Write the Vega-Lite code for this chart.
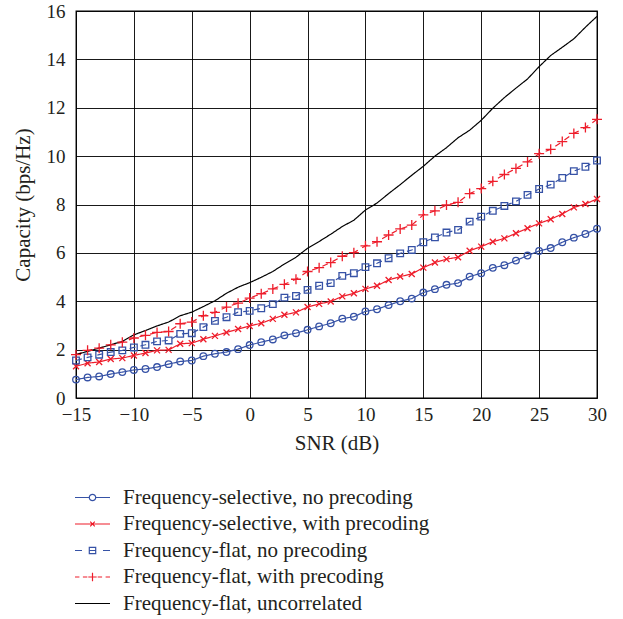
{
  "$schema": "https://vega.github.io/schema/vega-lite/v6.json",
  "width": 521,
  "height": 387,
  "autosize": "none",
  "padding": {"left": 76, "top": 11, "right": 26, "bottom": 221},
  "background": "white",
  "config": {
    "font": "Liberation Serif, Times New Roman, serif",
    "view": {"stroke": "black", "strokeWidth": 1.3},
    "axis": {
      "grid": true, "gridColor": "black", "gridWidth": 1, "gridOpacity": 0.9,
      "domain": false, "ticks": false, "labelFlush": false,
      "labelFont": "Liberation Serif, Times New Roman, serif", "labelFontSize": 19, "labelColor": "#231f20",
      "titleFont": "Liberation Serif, Times New Roman, serif", "titleFontSize": 21, "titleFontWeight": "normal", "titleColor": "#231f20"
    }
  },
  "data": {"values": [
    {"snr":-15,"series":"Frequency-selective, no precoding","cap":0.76},
    {"snr":-14,"series":"Frequency-selective, no precoding","cap":0.85},
    {"snr":-13,"series":"Frequency-selective, no precoding","cap":0.89},
    {"snr":-12,"series":"Frequency-selective, no precoding","cap":0.99},
    {"snr":-11,"series":"Frequency-selective, no precoding","cap":1.07},
    {"snr":-10,"series":"Frequency-selective, no precoding","cap":1.16},
    {"snr":-9,"series":"Frequency-selective, no precoding","cap":1.20},
    {"snr":-8,"series":"Frequency-selective, no precoding","cap":1.28},
    {"snr":-7,"series":"Frequency-selective, no precoding","cap":1.40},
    {"snr":-6,"series":"Frequency-selective, no precoding","cap":1.51},
    {"snr":-5,"series":"Frequency-selective, no precoding","cap":1.55},
    {"snr":-4,"series":"Frequency-selective, no precoding","cap":1.73},
    {"snr":-3,"series":"Frequency-selective, no precoding","cap":1.83},
    {"snr":-2,"series":"Frequency-selective, no precoding","cap":1.90},
    {"snr":-1,"series":"Frequency-selective, no precoding","cap":2.02},
    {"snr":0,"series":"Frequency-selective, no precoding","cap":2.19},
    {"snr":1,"series":"Frequency-selective, no precoding","cap":2.31},
    {"snr":2,"series":"Frequency-selective, no precoding","cap":2.42},
    {"snr":3,"series":"Frequency-selective, no precoding","cap":2.59},
    {"snr":4,"series":"Frequency-selective, no precoding","cap":2.68},
    {"snr":5,"series":"Frequency-selective, no precoding","cap":2.82},
    {"snr":6,"series":"Frequency-selective, no precoding","cap":2.96},
    {"snr":7,"series":"Frequency-selective, no precoding","cap":3.09},
    {"snr":8,"series":"Frequency-selective, no precoding","cap":3.28},
    {"snr":9,"series":"Frequency-selective, no precoding","cap":3.36},
    {"snr":10,"series":"Frequency-selective, no precoding","cap":3.58},
    {"snr":11,"series":"Frequency-selective, no precoding","cap":3.67},
    {"snr":12,"series":"Frequency-selective, no precoding","cap":3.84},
    {"snr":13,"series":"Frequency-selective, no precoding","cap":4.00},
    {"snr":14,"series":"Frequency-selective, no precoding","cap":4.11},
    {"snr":15,"series":"Frequency-selective, no precoding","cap":4.36},
    {"snr":16,"series":"Frequency-selective, no precoding","cap":4.50},
    {"snr":17,"series":"Frequency-selective, no precoding","cap":4.68},
    {"snr":18,"series":"Frequency-selective, no precoding","cap":4.75},
    {"snr":19,"series":"Frequency-selective, no precoding","cap":5.02},
    {"snr":20,"series":"Frequency-selective, no precoding","cap":5.16},
    {"snr":21,"series":"Frequency-selective, no precoding","cap":5.38},
    {"snr":22,"series":"Frequency-selective, no precoding","cap":5.49},
    {"snr":23,"series":"Frequency-selective, no precoding","cap":5.68},
    {"snr":24,"series":"Frequency-selective, no precoding","cap":5.89},
    {"snr":25,"series":"Frequency-selective, no precoding","cap":6.08},
    {"snr":26,"series":"Frequency-selective, no precoding","cap":6.20},
    {"snr":27,"series":"Frequency-selective, no precoding","cap":6.44},
    {"snr":28,"series":"Frequency-selective, no precoding","cap":6.63},
    {"snr":29,"series":"Frequency-selective, no precoding","cap":6.78},
    {"snr":30,"series":"Frequency-selective, no precoding","cap":7.00},
    {"snr":-15,"series":"Frequency-selective, with precoding","cap":1.31},
    {"snr":-14,"series":"Frequency-selective, with precoding","cap":1.44},
    {"snr":-13,"series":"Frequency-selective, with precoding","cap":1.49},
    {"snr":-12,"series":"Frequency-selective, with precoding","cap":1.61},
    {"snr":-11,"series":"Frequency-selective, with precoding","cap":1.65},
    {"snr":-10,"series":"Frequency-selective, with precoding","cap":1.76},
    {"snr":-9,"series":"Frequency-selective, with precoding","cap":1.86},
    {"snr":-8,"series":"Frequency-selective, with precoding","cap":1.97},
    {"snr":-7,"series":"Frequency-selective, with precoding","cap":1.99},
    {"snr":-6,"series":"Frequency-selective, with precoding","cap":2.24},
    {"snr":-5,"series":"Frequency-selective, with precoding","cap":2.27},
    {"snr":-4,"series":"Frequency-selective, with precoding","cap":2.43},
    {"snr":-3,"series":"Frequency-selective, with precoding","cap":2.57},
    {"snr":-2,"series":"Frequency-selective, with precoding","cap":2.71},
    {"snr":-1,"series":"Frequency-selective, with precoding","cap":2.85},
    {"snr":0,"series":"Frequency-selective, with precoding","cap":2.98},
    {"snr":1,"series":"Frequency-selective, with precoding","cap":3.09},
    {"snr":2,"series":"Frequency-selective, with precoding","cap":3.27},
    {"snr":3,"series":"Frequency-selective, with precoding","cap":3.44},
    {"snr":4,"series":"Frequency-selective, with precoding","cap":3.54},
    {"snr":5,"series":"Frequency-selective, with precoding","cap":3.76},
    {"snr":6,"series":"Frequency-selective, with precoding","cap":3.89},
    {"snr":7,"series":"Frequency-selective, with precoding","cap":3.99},
    {"snr":8,"series":"Frequency-selective, with precoding","cap":4.20},
    {"snr":9,"series":"Frequency-selective, with precoding","cap":4.33},
    {"snr":10,"series":"Frequency-selective, with precoding","cap":4.51},
    {"snr":11,"series":"Frequency-selective, with precoding","cap":4.64},
    {"snr":12,"series":"Frequency-selective, with precoding","cap":4.88},
    {"snr":13,"series":"Frequency-selective, with precoding","cap":5.02},
    {"snr":14,"series":"Frequency-selective, with precoding","cap":5.13},
    {"snr":15,"series":"Frequency-selective, with precoding","cap":5.39},
    {"snr":16,"series":"Frequency-selective, with precoding","cap":5.60},
    {"snr":17,"series":"Frequency-selective, with precoding","cap":5.74},
    {"snr":18,"series":"Frequency-selective, with precoding","cap":5.82},
    {"snr":19,"series":"Frequency-selective, with precoding","cap":6.09},
    {"snr":20,"series":"Frequency-selective, with precoding","cap":6.26},
    {"snr":21,"series":"Frequency-selective, with precoding","cap":6.46},
    {"snr":22,"series":"Frequency-selective, with precoding","cap":6.60},
    {"snr":23,"series":"Frequency-selective, with precoding","cap":6.81},
    {"snr":24,"series":"Frequency-selective, with precoding","cap":7.02},
    {"snr":25,"series":"Frequency-selective, with precoding","cap":7.22},
    {"snr":26,"series":"Frequency-selective, with precoding","cap":7.39},
    {"snr":27,"series":"Frequency-selective, with precoding","cap":7.61},
    {"snr":28,"series":"Frequency-selective, with precoding","cap":7.88},
    {"snr":29,"series":"Frequency-selective, with precoding","cap":8.02},
    {"snr":30,"series":"Frequency-selective, with precoding","cap":8.23},
    {"snr":-15,"series":"Frequency-flat, no precoding","cap":1.55},
    {"snr":-14,"series":"Frequency-flat, no precoding","cap":1.68},
    {"snr":-13,"series":"Frequency-flat, no precoding","cap":1.79},
    {"snr":-12,"series":"Frequency-flat, no precoding","cap":1.90},
    {"snr":-11,"series":"Frequency-flat, no precoding","cap":1.97},
    {"snr":-10,"series":"Frequency-flat, no precoding","cap":2.09},
    {"snr":-9,"series":"Frequency-flat, no precoding","cap":2.20},
    {"snr":-8,"series":"Frequency-flat, no precoding","cap":2.34},
    {"snr":-7,"series":"Frequency-flat, no precoding","cap":2.38},
    {"snr":-6,"series":"Frequency-flat, no precoding","cap":2.65},
    {"snr":-5,"series":"Frequency-flat, no precoding","cap":2.68},
    {"snr":-4,"series":"Frequency-flat, no precoding","cap":2.93},
    {"snr":-3,"series":"Frequency-flat, no precoding","cap":3.19},
    {"snr":-2,"series":"Frequency-flat, no precoding","cap":3.34},
    {"snr":-1,"series":"Frequency-flat, no precoding","cap":3.55},
    {"snr":0,"series":"Frequency-flat, no precoding","cap":3.60},
    {"snr":1,"series":"Frequency-flat, no precoding","cap":3.71},
    {"snr":2,"series":"Frequency-flat, no precoding","cap":3.88},
    {"snr":3,"series":"Frequency-flat, no precoding","cap":4.15},
    {"snr":4,"series":"Frequency-flat, no precoding","cap":4.22},
    {"snr":5,"series":"Frequency-flat, no precoding","cap":4.47},
    {"snr":6,"series":"Frequency-flat, no precoding","cap":4.64},
    {"snr":7,"series":"Frequency-flat, no precoding","cap":4.75},
    {"snr":8,"series":"Frequency-flat, no precoding","cap":5.05},
    {"snr":9,"series":"Frequency-flat, no precoding","cap":5.16},
    {"snr":10,"series":"Frequency-flat, no precoding","cap":5.41},
    {"snr":11,"series":"Frequency-flat, no precoding","cap":5.57},
    {"snr":12,"series":"Frequency-flat, no precoding","cap":5.78},
    {"snr":13,"series":"Frequency-flat, no precoding","cap":5.98},
    {"snr":14,"series":"Frequency-flat, no precoding","cap":6.12},
    {"snr":15,"series":"Frequency-flat, no precoding","cap":6.44},
    {"snr":16,"series":"Frequency-flat, no precoding","cap":6.64},
    {"snr":17,"series":"Frequency-flat, no precoding","cap":6.84},
    {"snr":18,"series":"Frequency-flat, no precoding","cap":6.95},
    {"snr":19,"series":"Frequency-flat, no precoding","cap":7.29},
    {"snr":20,"series":"Frequency-flat, no precoding","cap":7.50},
    {"snr":21,"series":"Frequency-flat, no precoding","cap":7.74},
    {"snr":22,"series":"Frequency-flat, no precoding","cap":7.94},
    {"snr":23,"series":"Frequency-flat, no precoding","cap":8.13},
    {"snr":24,"series":"Frequency-flat, no precoding","cap":8.40},
    {"snr":25,"series":"Frequency-flat, no precoding","cap":8.64},
    {"snr":26,"series":"Frequency-flat, no precoding","cap":8.82},
    {"snr":27,"series":"Frequency-flat, no precoding","cap":9.10},
    {"snr":28,"series":"Frequency-flat, no precoding","cap":9.38},
    {"snr":29,"series":"Frequency-flat, no precoding","cap":9.56},
    {"snr":30,"series":"Frequency-flat, no precoding","cap":9.82},
    {"snr":-15,"series":"Frequency-flat, with precoding","cap":1.79},
    {"snr":-14,"series":"Frequency-flat, with precoding","cap":1.97},
    {"snr":-13,"series":"Frequency-flat, with precoding","cap":2.06},
    {"snr":-12,"series":"Frequency-flat, with precoding","cap":2.20},
    {"snr":-11,"series":"Frequency-flat, with precoding","cap":2.31},
    {"snr":-10,"series":"Frequency-flat, with precoding","cap":2.48},
    {"snr":-9,"series":"Frequency-flat, with precoding","cap":2.59},
    {"snr":-8,"series":"Frequency-flat, with precoding","cap":2.71},
    {"snr":-7,"series":"Frequency-flat, with precoding","cap":2.75},
    {"snr":-6,"series":"Frequency-flat, with precoding","cap":3.07},
    {"snr":-5,"series":"Frequency-flat, with precoding","cap":3.14},
    {"snr":-4,"series":"Frequency-flat, with precoding","cap":3.40},
    {"snr":-3,"series":"Frequency-flat, with precoding","cap":3.54},
    {"snr":-2,"series":"Frequency-flat, with precoding","cap":3.76},
    {"snr":-1,"series":"Frequency-flat, with precoding","cap":3.92},
    {"snr":0,"series":"Frequency-flat, with precoding","cap":4.13},
    {"snr":1,"series":"Frequency-flat, with precoding","cap":4.31},
    {"snr":2,"series":"Frequency-flat, with precoding","cap":4.51},
    {"snr":3,"series":"Frequency-flat, with precoding","cap":4.70},
    {"snr":4,"series":"Frequency-flat, with precoding","cap":4.91},
    {"snr":5,"series":"Frequency-flat, with precoding","cap":5.23},
    {"snr":6,"series":"Frequency-flat, with precoding","cap":5.39},
    {"snr":7,"series":"Frequency-flat, with precoding","cap":5.60},
    {"snr":8,"series":"Frequency-flat, with precoding","cap":5.86},
    {"snr":9,"series":"Frequency-flat, with precoding","cap":6.01},
    {"snr":10,"series":"Frequency-flat, with precoding","cap":6.29},
    {"snr":11,"series":"Frequency-flat, with precoding","cap":6.46},
    {"snr":12,"series":"Frequency-flat, with precoding","cap":6.74},
    {"snr":13,"series":"Frequency-flat, with precoding","cap":6.99},
    {"snr":14,"series":"Frequency-flat, with precoding","cap":7.15},
    {"snr":15,"series":"Frequency-flat, with precoding","cap":7.57},
    {"snr":16,"series":"Frequency-flat, with precoding","cap":7.74},
    {"snr":17,"series":"Frequency-flat, with precoding","cap":7.98},
    {"snr":18,"series":"Frequency-flat, with precoding","cap":8.09},
    {"snr":19,"series":"Frequency-flat, with precoding","cap":8.45},
    {"snr":20,"series":"Frequency-flat, with precoding","cap":8.66},
    {"snr":21,"series":"Frequency-flat, with precoding","cap":8.96},
    {"snr":22,"series":"Frequency-flat, with precoding","cap":9.24},
    {"snr":23,"series":"Frequency-flat, with precoding","cap":9.49},
    {"snr":24,"series":"Frequency-flat, with precoding","cap":9.76},
    {"snr":25,"series":"Frequency-flat, with precoding","cap":10.10},
    {"snr":26,"series":"Frequency-flat, with precoding","cap":10.28},
    {"snr":27,"series":"Frequency-flat, with precoding","cap":10.60},
    {"snr":28,"series":"Frequency-flat, with precoding","cap":10.94},
    {"snr":29,"series":"Frequency-flat, with precoding","cap":11.18},
    {"snr":30,"series":"Frequency-flat, with precoding","cap":11.52},
    {"snr":-15,"series":"Frequency-flat, uncorrelated","cap":1.79},
    {"snr":-14,"series":"Frequency-flat, uncorrelated","cap":1.93},
    {"snr":-13,"series":"Frequency-flat, uncorrelated","cap":2.06},
    {"snr":-12,"series":"Frequency-flat, uncorrelated","cap":2.20},
    {"snr":-11,"series":"Frequency-flat, uncorrelated","cap":2.34},
    {"snr":-10,"series":"Frequency-flat, uncorrelated","cap":2.61},
    {"snr":-9,"series":"Frequency-flat, uncorrelated","cap":2.79},
    {"snr":-8,"series":"Frequency-flat, uncorrelated","cap":2.98},
    {"snr":-7,"series":"Frequency-flat, uncorrelated","cap":3.14},
    {"snr":-6,"series":"Frequency-flat, uncorrelated","cap":3.40},
    {"snr":-5,"series":"Frequency-flat, uncorrelated","cap":3.55},
    {"snr":-4,"series":"Frequency-flat, uncorrelated","cap":3.78},
    {"snr":-3,"series":"Frequency-flat, uncorrelated","cap":4.02},
    {"snr":-2,"series":"Frequency-flat, uncorrelated","cap":4.33},
    {"snr":-1,"series":"Frequency-flat, uncorrelated","cap":4.58},
    {"snr":0,"series":"Frequency-flat, uncorrelated","cap":4.77},
    {"snr":1,"series":"Frequency-flat, uncorrelated","cap":4.99},
    {"snr":2,"series":"Frequency-flat, uncorrelated","cap":5.23},
    {"snr":3,"series":"Frequency-flat, uncorrelated","cap":5.54},
    {"snr":4,"series":"Frequency-flat, uncorrelated","cap":5.82},
    {"snr":5,"series":"Frequency-flat, uncorrelated","cap":6.19},
    {"snr":6,"series":"Frequency-flat, uncorrelated","cap":6.47},
    {"snr":7,"series":"Frequency-flat, uncorrelated","cap":6.77},
    {"snr":8,"series":"Frequency-flat, uncorrelated","cap":7.09},
    {"snr":9,"series":"Frequency-flat, uncorrelated","cap":7.35},
    {"snr":10,"series":"Frequency-flat, uncorrelated","cap":7.77},
    {"snr":11,"series":"Frequency-flat, uncorrelated","cap":8.06},
    {"snr":12,"series":"Frequency-flat, uncorrelated","cap":8.45},
    {"snr":13,"series":"Frequency-flat, uncorrelated","cap":8.82},
    {"snr":14,"series":"Frequency-flat, uncorrelated","cap":9.21},
    {"snr":15,"series":"Frequency-flat, uncorrelated","cap":9.58},
    {"snr":16,"series":"Frequency-flat, uncorrelated","cap":10.00},
    {"snr":17,"series":"Frequency-flat, uncorrelated","cap":10.35},
    {"snr":18,"series":"Frequency-flat, uncorrelated","cap":10.76},
    {"snr":19,"series":"Frequency-flat, uncorrelated","cap":11.07},
    {"snr":20,"series":"Frequency-flat, uncorrelated","cap":11.48},
    {"snr":21,"series":"Frequency-flat, uncorrelated","cap":11.98},
    {"snr":22,"series":"Frequency-flat, uncorrelated","cap":12.42},
    {"snr":23,"series":"Frequency-flat, uncorrelated","cap":12.81},
    {"snr":24,"series":"Frequency-flat, uncorrelated","cap":13.19},
    {"snr":25,"series":"Frequency-flat, uncorrelated","cap":13.70},
    {"snr":26,"series":"Frequency-flat, uncorrelated","cap":14.16},
    {"snr":27,"series":"Frequency-flat, uncorrelated","cap":14.50},
    {"snr":28,"series":"Frequency-flat, uncorrelated","cap":14.85},
    {"snr":29,"series":"Frequency-flat, uncorrelated","cap":15.33},
    {"snr":30,"series":"Frequency-flat, uncorrelated","cap":15.78}
  ]},
  "encoding": {
    "x": {"field": "snr", "type": "quantitative", "title": "SNR (dB)",
      "scale": {"domain": [-15, 30], "nice": false, "zero": false},
      "axis": {"values": [-15,-10,-5,0,5,10,15,20,25,30], "labelExpr": "replace(datum.label, '-', '\u2212')", "labelPadding": 7, "titlePadding": 8}},
    "y": {"field": "cap", "type": "quantitative", "title": "Capacity (bps/Hz)",
      "scale": {"domain": [0, 16], "nice": false},
      "axis": {"values": [0,2,4,6,8,10,12,14,16], "labelPadding": 11, "titlePadding": 13}},
    "color": {"field": "series", "type": "nominal", "legend": null,
      "scale": {"domain": ["Frequency-selective, no precoding","Frequency-selective, with precoding","Frequency-flat, no precoding","Frequency-flat, with precoding","Frequency-flat, uncorrelated"],
        "range": ["#3652a6","#ee1d2b","#3652a6","#ee1d2b","#000000"]}}
  },
  "layer": [
    {"mark": {"type": "line", "strokeWidth": 1.2},
     "encoding": {"strokeDash": {"field": "series", "type": "nominal", "legend": null,
       "scale": {"domain": ["Frequency-selective, no precoding","Frequency-selective, with precoding","Frequency-flat, no precoding","Frequency-flat, with precoding","Frequency-flat, uncorrelated"],
         "range": [[1,0],[1,0],[6,5],[6,5],[1,0]]}}}},
    {"transform": [{"filter": "datum.series !== 'Frequency-flat, uncorrelated'"}],
     "mark": {"type": "point", "filled": false, "strokeWidth": 1.3, "opacity": 1, "size": 100},
     "encoding": {"shape": {"field": "series", "type": "nominal", "legend": null,
       "scale": {"domain": ["Frequency-selective, no precoding","Frequency-selective, with precoding","Frequency-flat, no precoding","Frequency-flat, with precoding"],
         "range": ["M-0.66,0A0.66,0.66 0 1,1 0.66,0A0.66,0.66 0 1,1 -0.66,0Z", "M-0.6,-0.6L0.6,0.6M-0.6,0.6L0.6,-0.6", "M-0.66,-0.66H0.66V0.66H-0.66Z", "M-1,0H1M0,-1V1"]}}}},
    {"mark": {"type": "point", "filled": false, "opacity": 0, "strokeWidth": 1.2},
     "encoding": {"shape": {"field": "series", "type": "nominal",
       "scale": {"domain": ["Frequency-selective, no precoding","Frequency-selective, with precoding","Frequency-flat, no precoding","Frequency-flat, with precoding","Frequency-flat, uncorrelated"],
         "range": [
           "M-1.75,0H-0.32M0.32,0H1.75M-0.32,0A0.32,0.32 0 1,1 0.32,0A0.32,0.32 0 1,1 -0.32,0Z",
           "M-1.75,0H1.75M-0.23,-0.23L0.23,0.23M-0.23,0.23L0.23,-0.23",
           "M-1.75,0H-1.05M1.05,0H1.75M-0.32,-0.32H0.32V0.32H-0.32ZM-0.32,0H0.32",
           "M-1.75,0H-1.31M-0.96,0H-0.52M0.52,0H0.96M1.31,0H1.75M-0.42,0H0.42M0,-0.42V0.42",
           "M-1.75,0H1.75"]},
       "legend": {"title": null, "orient": "none", "legendX": 5.5, "legendY": 475.5,
         "symbolSize": 400, "symbolOpacity": 1, "symbolStrokeWidth": 1.2, "symbolFillColor": "transparent",
         "symbolStrokeColor": {"expr": "scale('color', datum.value)"},
         "labelFont": "Liberation Serif, Times New Roman, serif", "labelFontSize": 21, "labelColor": "#231f20", "labelOffset": 19.5, "labelLimit": 0, "rowPadding": 5.5,
         "encode": {"symbols": {"stroke": {"value": {"expr": "scale('color', datum.value)"}}, "opacity": {"value": 1}}}}}}}
  ],
  "resolve": {"scale": {"shape": "independent"}}
}
